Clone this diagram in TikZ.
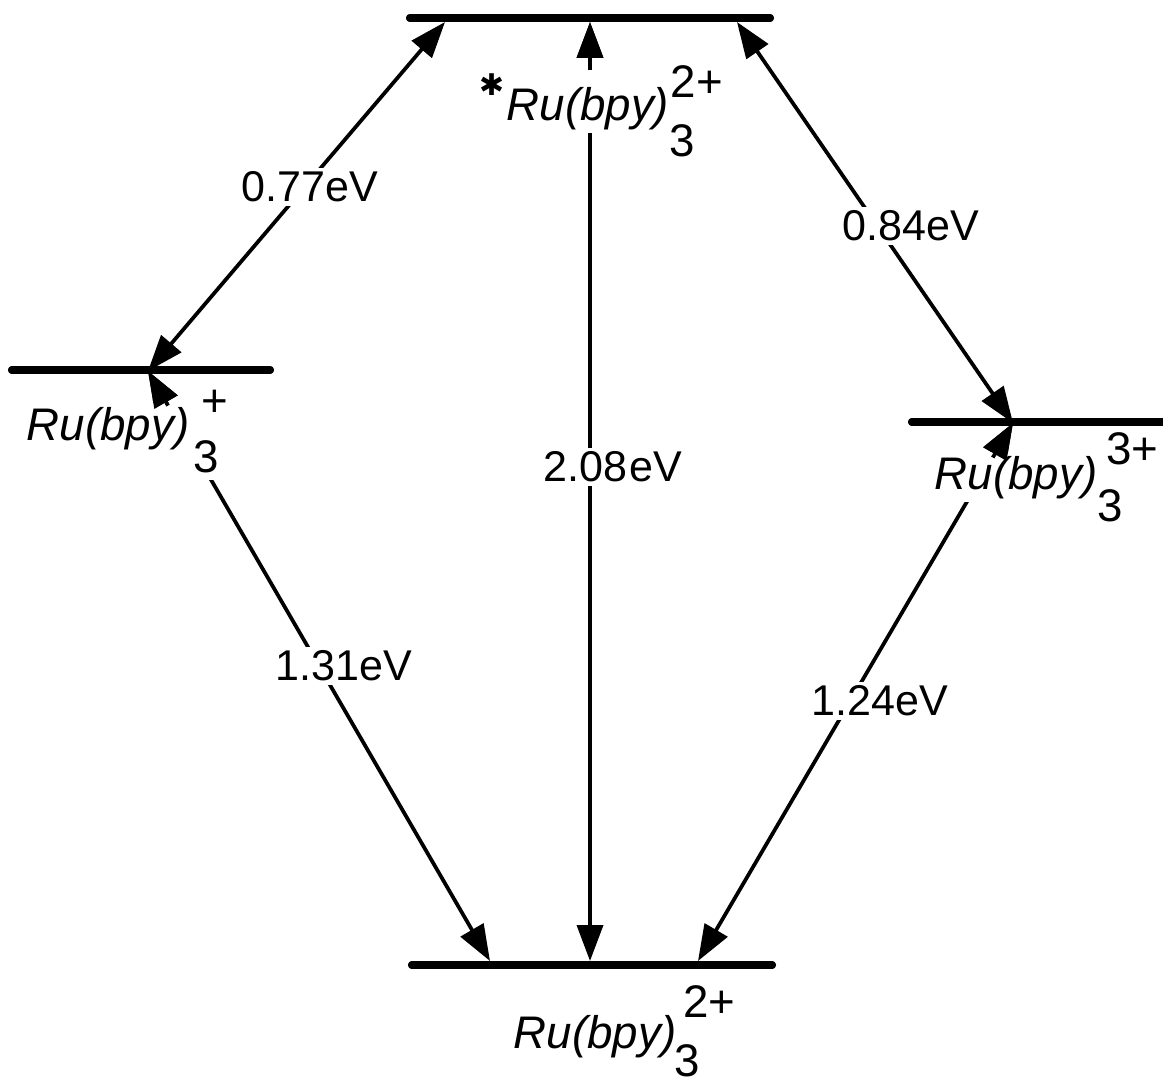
\documentclass[tikz,border=0pt]{standalone}
\usepackage{fontspec}
\setmainfont{Liberation Sans}
\newfontfamily\djv{DejaVu Sans}
\usetikzlibrary{arrows.meta,calc}
% #1 sup text, #2 sup kern, #3 sup raise, #4 sub lower, #5 sub kern
\newcommand\rubpy[5]{\textit{Ru(bpy)}\rlap{\kern#5\smash{\raisebox{-#4}{3}}}\kern#2\smash{\raisebox{#3}{#1}}}
\begin{document}
\begin{tikzpicture}[x=0.02cm,y=-0.02cm,
  level/.style={line width=0.16cm,line cap=round},
  conn/.style={line width=0.075cm,{Triangle[length=0.72cm,width=0.52cm]}-{Triangle[length=0.72cm,width=0.52cm]}},
  tip/.style={line width=0.075cm,-{Triangle[length=0.72cm,width=0.52cm]}},
  lab/.style={fill=white,inner sep=2pt,font=\fontsize{24.5}{29}\selectfont},
  species/.style={fill=white,inner sep=2pt,anchor=base west,font=\fontsize{26}{30}\selectfont}]
\useasboundingbox (0,0) rectangle (1163,1086);
% level end points
\coordinate (T1) at (410,18);  \coordinate (T2) at (770,18);
\coordinate (L1) at (12,370);  \coordinate (L2) at (270,370);
\coordinate (R1) at (912,422); \coordinate (R2) at (1175,422);
\coordinate (B1) at (412,965); \coordinate (B2) at (772,965);
% junctions
\coordinate (tl) at (445,22);  \coordinate (tm) at (590,22);  \coordinate (tr) at (737,22);
\coordinate (lj) at (148,371); \coordinate (rj) at (1013,423);
\coordinate (bl) at (490,961); \coordinate (bm) at (590,961); \coordinate (br) at (698,961);
% levels
\draw[level] (T1) -- (T2);
\draw[level] (L1) -- (L2);
\draw[level] (R1) -- (R2);
\draw[level] (B1) -- (B2);
% connectors
\draw[conn] (lj) -- (tl);
\draw[conn] (bm) -- (tm);
\draw[conn] (rj) -- (tr);
\draw[conn] (lj) -- (bl);
\draw[conn] (rj) -- (br);
% energy labels
\node[lab] (e077) at (310,187) {0.77eV};
\node[lab] (e084) at (911,226) {0.84eV};
\node[lab] (e208) at (613,467) {2.08\kern1pt eV};
\node[lab] (e131) at (344,666) {1.31eV};
\node[lab] (e124) at (880,701) {1.24eV};
% species labels
\node[species] (exc) at (476,120) {\raisebox{14pt}{\djv\fontsize{17}{17}\selectfont ✱}\kern1pt\rubpy{2+}{1pt}{0.5em}{0.8em}{0pt}};
\node[species] (red) at (23,440) {\rule[-0.8em]{0pt}{1em}\rubpy{+}{7pt}{0.52em}{0.72em}{2.5pt}};
\node[species] (oxi) at (931,489) {\rubpy{3+}{5pt}{0.54em}{0.72em}{0pt}};
\node[species] (gnd) at (510,1048) {\rubpy{2+}{4pt}{0.67em}{0.63em}{-1pt}};
% arrow heads on top of the labels
\draw[tip] ($(lj)!0.8cm!(bl)$) -- (lj);
\draw[tip] ($(rj)!0.8cm!(br)$) -- (rj);
\draw[tip] ($(tm)!0.8cm!(bm)$) -- (tm);
% levels again on top
\draw[level] (T1) -- (T2);
\draw[level] (L1) -- (L2);
\draw[level] (R1) -- (R2);
\draw[level] (B1) -- (B2);
\end{tikzpicture}
\end{document}
